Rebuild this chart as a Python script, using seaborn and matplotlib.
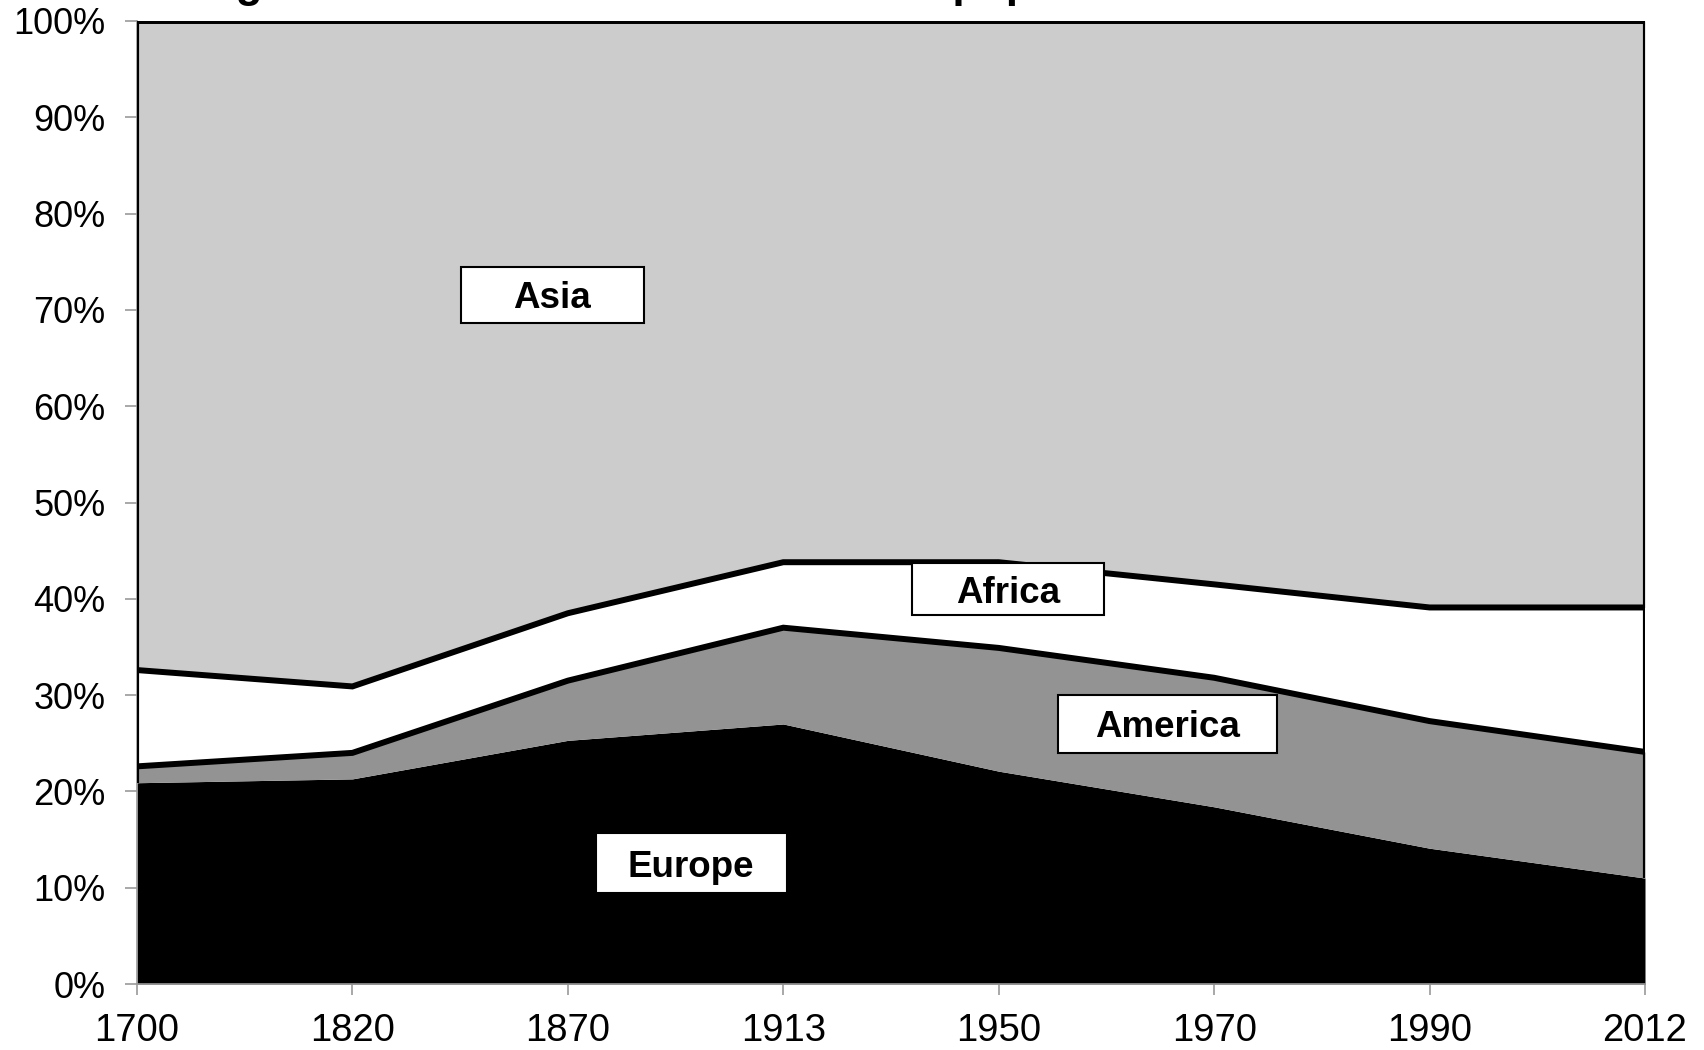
import matplotlib
matplotlib.use("Agg")
import matplotlib.pyplot as plt
import seaborn as sns
import numpy as np
import pandas as pd
from matplotlib.patches import Rectangle
from matplotlib.ticker import FuncFormatter

# ---- data (cumulative shares of world population) ----
years = ["1700", "1820", "1870", "1913", "1950", "1970", "1990", "2012"]
europe_top = [0.209, 0.213, 0.253, 0.270, 0.221, 0.184, 0.141, 0.110]
america_top = [0.226, 0.240, 0.315, 0.370, 0.349, 0.318, 0.273, 0.241]
africa_top = [0.326, 0.309, 0.385, 0.438, 0.438, 0.415, 0.391, 0.391]
asia_top = [1.0, 1.0, 1.0, 1.0, 1.0, 1.0, 1.0, 1.0]

region_names = ["Asia", "Africa", "America", "Europe"]
label_x = [1.927, 4.044, 4.784, 2.572]
label_y = [0.7155, 0.410, 0.270, 0.1256]
label_w = [0.85, 0.891, 1.017, 0.887]
label_h = [0.058, 0.054, 0.060, 0.063]

title_text = "Figure 1.2. The distribution of world population 1700-2012"

sns.set_theme(style="white")
plt.rcParams["font.family"] = ["Liberation Sans", "DejaVu Sans"]

fig = plt.figure(figsize=(17.04, 10.5), dpi=100)
ax = fig.add_axes([137 / 1704, 1 - 984 / 1050, (1645 - 137) / 1704, (984 - 21) / 1050])

x = np.arange(len(years))
df = pd.DataFrame({"x": x, "europe": europe_top, "america": america_top,
                   "africa": africa_top, "asia": asia_top})

ax.fill_between(df["x"], 0, df["europe"], color="black", lw=0)
ax.fill_between(df["x"], df["europe"], df["america"], color="#939393", lw=0)
ax.fill_between(df["x"], df["america"], df["africa"], color="white", lw=0)
ax.fill_between(df["x"], df["africa"], df["asia"], color="#cccccc", lw=0)

for col in ["america", "africa", "asia"]:
    sns.lineplot(data=df, x="x", y=col, ax=ax, color="black", lw=4.3,
                 solid_joinstyle="miter", zorder=3)
# side edges of the upper areas
ax.vlines([x[0], x[-1]], [europe_top[0], europe_top[-1]], [1.0, 1.0],
          color="black", lw=3, zorder=3)

ax.set_xlim(0, len(years) - 1)
ax.set_ylim(0, 1)
ax.set_xticks(x)
ax.set_xticklabels(years)
ax.set_yticks(np.linspace(0, 1, 11))
ax.yaxis.set_major_formatter(FuncFormatter(lambda v, p: f"{v*100:.0f}%"))
ax.set_xlabel("")
ax.set_ylabel("")

for s in ["top", "right"]:
    ax.spines[s].set_visible(False)
for s in ["left", "bottom"]:
    ax.spines[s].set_color("#999999")
    ax.spines[s].set_linewidth(1.2)
ax.tick_params(axis="y", which="major", left=True, length=8.6, width=1.2,
               color="#999999", pad=14, labelsize=26, labelcolor="black")
ax.tick_params(axis="x", which="major", bottom=True, length=8, width=1.2,
               color="#999999", pad=13, labelsize=27.5, labelcolor="black")

for name, lx, ly, w, h in zip(region_names, label_x, label_y, label_w, label_h):
    ax.add_patch(Rectangle((lx - w / 2, ly - h / 2), w, h, facecolor="white",
                           edgecolor="black", lw=1.5, zorder=5))
    ax.text(lx, ly, name, ha="center", va="center_baseline", fontsize=26.5,
            fontweight="bold", color="black", zorder=6)

fig.text(197 / 1704, 1 + 3 / 1050, title_text, ha="left", va="baseline",
         fontsize=31.5, fontweight="bold", color="black")

fig.savefig("out.png", dpi=100)
